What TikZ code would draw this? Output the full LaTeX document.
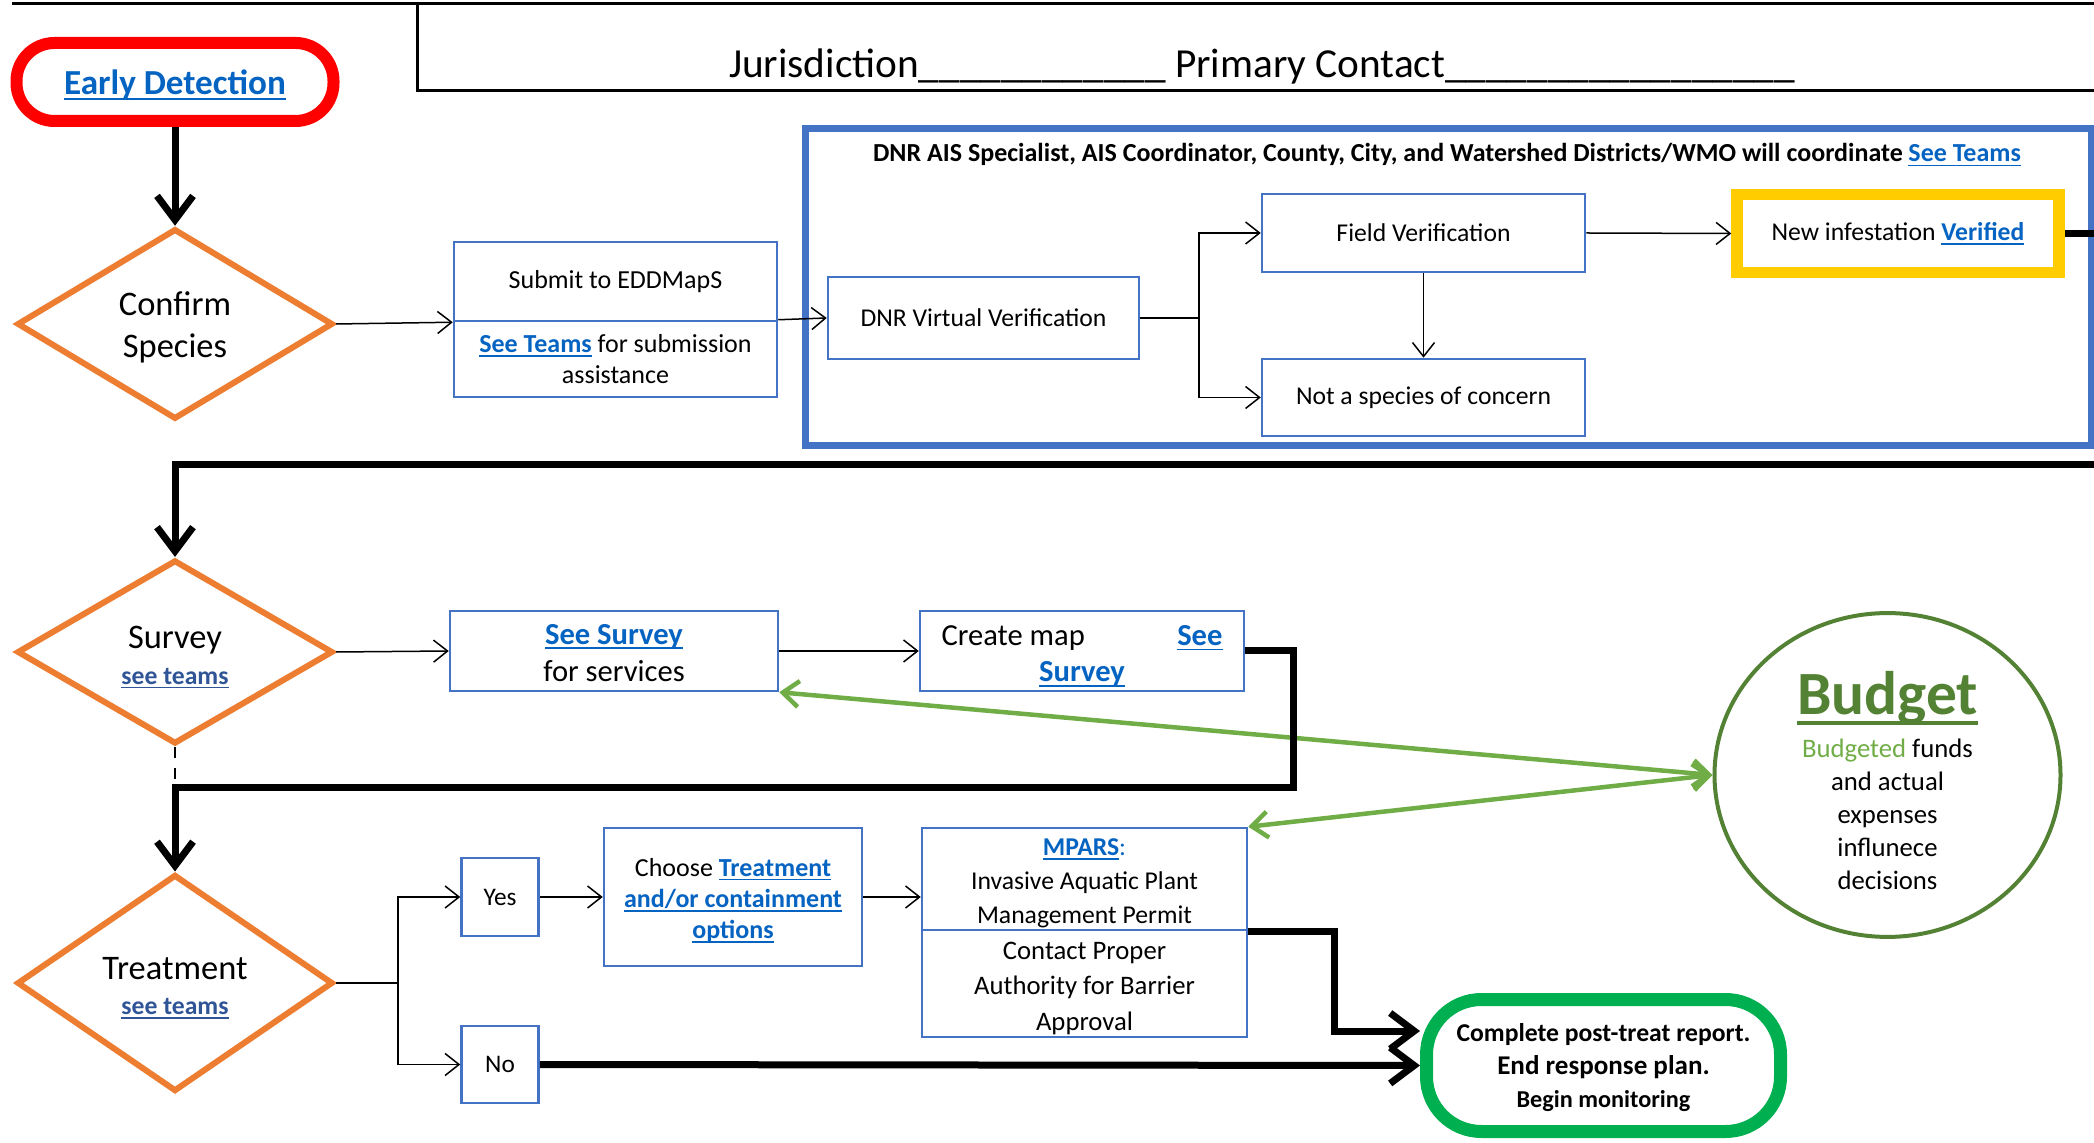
\documentclass[tikz,border=0pt]{standalone}
\usepackage{fontspec}
\setmainfont{Carlito}
\usepackage{xcolor}
\usepackage{tikz}
\usetikzlibrary{shapes.geometric,arrows.meta}

\definecolor{linkblue}{HTML}{0563C1}
\definecolor{teamblue}{HTML}{2F5597}
\definecolor{boxblue}{HTML}{4472C4}
\definecolor{diaorange}{HTML}{ED7D31}
\definecolor{verifyellow}{HTML}{FFCC00}
\definecolor{endgreen}{HTML}{00B050}
\definecolor{budgetgreen}{HTML}{548235}
\definecolor{arrowgreen}{HTML}{70AD47}

\newsavebox{\ulsave}
\newcommand{\fsz}[2]{\fontsize{#1}{#2}\selectfont}
\newcommand{\topstrut}[1]{\rule{0pt}{#1}}
\newcommand{\ulbox}[1]{\leavevmode\sbox{\ulsave}{#1}\rlap{\rule[-0.16em]{\wd\ulsave}{0.06em}}\usebox{\ulsave}}
\newcommand{\lnk}[1]{\textcolor{linkblue}{\ulbox{#1}}}
\newcommand{\team}[1]{{\bfseries\textcolor{teamblue}{\ulbox{#1}}}}

\begin{document}
\begin{tikzpicture}[x=0.1mm, y=-0.1mm,
  box/.style={draw=boxblue, line width=0.25mm, rectangle, align=center, inner sep=0pt},
  decision/.style={draw=diaorange, line width=0.6mm, diamond, minimum width=31.6mm, minimum height=18.4mm, align=center, inner sep=0pt},
  thinline/.style={line width=0.15mm},
  thinarrow/.style={thinline, -{Straight Barb[length=1.4mm, width=2.2mm]}},
  bigline/.style={line width=0.7mm},
  bigarrow/.style={bigline, -{Straight Barb[length=2.4mm, width=3.6mm]}},
  budgetarrow/.style={draw=arrowgreen, line width=0.45mm, {Straight Barb[length=1.6mm, width=2.6mm]}-{Straight Barb[length=1.6mm, width=2.6mm]}}]
  \useasboundingbox (0,0) rectangle (2094,1143);

  % header
  \draw[line width=0.3mm] (12,4) -- (2100,4);
  \draw[line width=0.3mm] (417,4) -- (417,91) -- (2100,91);
  \node[anchor=base, font=\fsz{11.75}{14}] (jurisdiction) at (1262,78) {Jurisdiction\_\_\_\_\_\_\_\_\_\_\_\_ Primary Contact\_\_\_\_\_\_\_\_\_\_\_\_\_\_\_\_\_};

  % early detection
  \node[draw=red, line width=1.2mm, rounded corners=3.8mm, minimum width=31.7mm, minimum height=7.8mm, inner sep=0pt, text depth=0pt, font=\fsz{10}{12}\bfseries] (early) at (175,82) {\lnk{Early Detection}};
  \node[decision, font=\fsz{9.8}{11.9}] (confirm) at (175,324) {\topstrut{8.8pt}Confirm\\Species};
  \draw[bigarrow] (early.south) -- (confirm.north);

  \node[box, minimum width=32.3mm, minimum height=7.9mm, font=\fsz{7.4}{8.8}] (submit) at (615.5,281.5) {Submit to EDDMapS};
  \node[box, minimum width=32.3mm, minimum height=7.6mm, font=\fsz{7.4}{8.8}] (assist) at (615.5,359) {\textbf{\lnk{See Teams}} for submission\\assistance};
  \draw[thinarrow] (confirm.east) -- (submit.south west);

  % coordination box
  \node[draw=boxblue, line width=0.7mm, minimum width=128.6mm, minimum height=31.7mm, inner sep=0pt] (coordbox) at (1448,287) {};
  \node[anchor=base, font=\fsz{7.4}{9}\bfseries] (coordtitle) at (1447,162) {DNR AIS Specialist, AIS Coordinator, County, City, and Watershed Districts/WMO will coordinate \lnk{See Teams}};
  \node[box, minimum width=31.1mm, minimum height=8.2mm, font=\fsz{7.3}{9}] (virtual) at (983.5,318) {DNR Virtual Verification};
  \node[box, minimum width=32.3mm, minimum height=7.8mm, font=\fsz{7.3}{9}] (field) at (1423.5,233) {Field Verification};
  \node[box, minimum width=32.3mm, minimum height=7.7mm, font=\fsz{7.3}{9}] (notsp) at (1423.5,397.5) {Not a species of concern};
  \node[draw=verifyellow, line width=1.15mm, minimum width=32.2mm, minimum height=7.8mm, inner sep=0pt, font=\fsz{7.3}{9}] (newinf) at (1898,233.5) {New infestation \textbf{\lnk{Verified}}};
  \draw[thinarrow] (assist.north east) -- (virtual.west);
  \coordinate (vsplit) at (1199,318);
  \draw[thinline] (virtual.east) -- (vsplit);
  \draw[thinarrow] (vsplit) |- (field.west);
  \draw[thinarrow] (vsplit) |- (notsp.west);
  \draw[thinarrow] (field.south) -- (notsp.north);
  \draw[thinarrow] (field.east) -- (newinf.west);
  \coordinate (rightA) at (2100,233.5);
  \coordinate (rightB) at (2100,465);
  \draw[bigline] (newinf.east) -- (rightA);

  % survey
  \node[decision, font=\fsz{9.8}{10}] (survey) at (175,652) {\topstrut{9.4pt}Survey\\{\fsz{7.3}{10}\team{see teams}}};
  \draw[bigarrow] (rightB) -| (survey.north);
  \node[box, minimum width=32.8mm, minimum height=8mm, font=\fsz{8.7}{10.5}] (seesurvey) at (614,651) {\topstrut{6.7pt}\textbf{\lnk{See Survey}}\\for services};
  \node[box, minimum width=32.4mm, minimum height=8mm, font=\fsz{8.7}{10.3}] (map) at (1082,651) {\topstrut{8.6pt}\makebox[28.1mm][s]{Create map\hfill\textbf{\lnk{See}}}\\\textbf{\lnk{Survey}}};
  \draw[thinarrow] (survey.east) -- (seesurvey.west);
  \draw[thinarrow] (seesurvey.east) -- (map.west);
  \coordinate (mapdown) at (1293,788);

  % budget
  \node[draw=budgetgreen, line width=0.4mm, ellipse, minimum width=34.6mm, minimum height=32mm, inner sep=0pt, align=center, font=\fsz{7.6}{9.4}] (budget) at (1887.5,775) {{\fsz{17.5}{20}\bfseries\topstrut{15.5pt}\textcolor{budgetgreen}{\ulbox{Budget}}}\\[2.6pt]\textcolor{arrowgreen}{Budgeted} funds\\and actual\\expenses\\influnece\\decisions};
  \draw[budgetarrow] (seesurvey.south east) -- (budget.west);

  % treatment
  \node[decision, font=\fsz{9.8}{10}] (treat) at (175,983) {\topstrut{9.3pt}Treatment\\{\fsz{7.3}{10}\team{see teams}}};
  \draw[bigarrow] (map.east) -| (mapdown) -| (treat.north);
  \draw[thinline, dashed] (survey.south) -- (survey.south |- mapdown);
  \node[box, minimum width=7.7mm, minimum height=7.8mm, font=\fsz{7.2}{9}] (yes) at (500,897) {Yes};
  \node[box, minimum width=7.7mm, minimum height=7.7mm, font=\fsz{7.2}{9}] (no) at (500,1064.5) {No};
  \coordinate (tsplit) at (398,983);
  \draw[thinline] (treat.east) -- (tsplit);
  \draw[thinarrow] (tsplit) |- (yes.west);
  \draw[thinarrow] (tsplit) |- (no.west);
  \node[box, minimum width=25.8mm, minimum height=13.8mm, font=\fsz{7.4}{8.9}] (choose) at (733,897) {\topstrut{7.1pt}Choose \textbf{\lnk{Treatment}}\\\textbf{\lnk{and/or containment}}\\\textbf{\lnk{options}}};
  \node[box, minimum width=32.5mm, minimum height=10.2mm, font=\fsz{7.3}{9.7}] (mpars) at (1084.5,879) {\topstrut{7.4pt}\textbf{\lnk{MPARS}}\textcolor{linkblue}{:}\\Invasive Aquatic Plant\\Management Permit};
  \node[box, minimum width=32.5mm, minimum height=10.7mm, font=\fsz{7.6}{10}] (contact) at (1084.5,983.5) {\topstrut{7.7pt}Contact Proper\\Authority for Barrier\\Approval};
  \draw[thinarrow] (yes.east) -- (choose.west);
  \draw[thinarrow] (choose.east) -- (choose.east -| mpars.west);
  \draw[budgetarrow] (mpars.north east) -- (budget.west);

  % end of response
  \node[draw=endgreen, line width=1.3mm, rounded corners=5.5mm, minimum width=35.4mm, minimum height=13.2mm, inner sep=0pt, text depth=0pt, align=center, font=\fsz{7.3}{9.3}\bfseries] (endbox) at (1603.5,1065.5) {Complete post-treat report.\\{\fsz{7.7}{9.3}End response plan.}\\{\fsz{6.9}{9.3}Begin monitoring}};
  \coordinate (mparsturn) at (1334,1031);
  \draw[bigarrow] (mpars.south east) -| (mparsturn) -- (mparsturn -| endbox.west);
  \draw[bigarrow] (no.east) -- (endbox.west);
\end{tikzpicture}
\end{document}
